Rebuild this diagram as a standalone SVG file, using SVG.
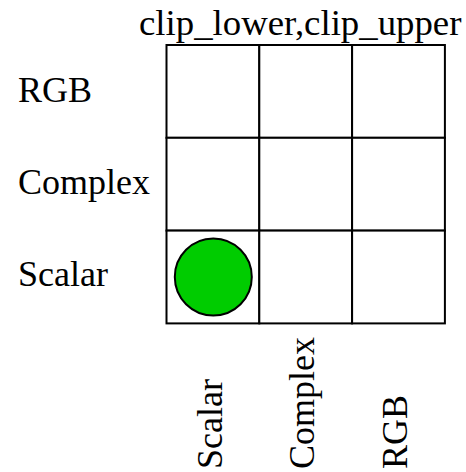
<svg xmlns="http://www.w3.org/2000/svg" width="466" height="472" viewBox="0 0 466 472">
<style>
text{font-family:"Liberation Serif","Times New Roman",serif;font-size:36px;fill:#000}
.cell{fill:#fff;stroke:#000;stroke-width:2}
</style>
<rect width="466" height="472" fill="#fff"/>
<text id="title" x="139" y="35" style="font-size:36.8px">clip_lower,clip_upper</text>
<g id="rowlabels">
<text x="18" y="101.5">RGB</text>
<text x="18" y="193.5">Complex</text>
<text x="18" y="286">Scalar</text>
</g>
<g id="grid">
<rect class="cell" x="166.5" y="45" width="92.8" height="92.8"/>
<rect class="cell" x="259.3" y="45" width="92.8" height="92.8"/>
<rect class="cell" x="352.1" y="45" width="92.8" height="92.8"/>
<rect class="cell" x="166.5" y="137.8" width="92.8" height="92.8"/>
<rect class="cell" x="259.3" y="137.8" width="92.8" height="92.8"/>
<rect class="cell" x="352.1" y="137.8" width="92.8" height="92.8"/>
<rect class="cell" x="166.5" y="230.6" width="92.8" height="92.8"/>
<rect class="cell" x="259.3" y="230.6" width="92.8" height="92.8"/>
<rect class="cell" x="352.1" y="230.6" width="92.8" height="92.8"/>
</g>
<g id="marker">
<circle cx="213.3" cy="277" r="38.5" fill="#00cc00" stroke="#000" stroke-width="2"/>
</g>
<g id="collabels">
<text transform="translate(221.7,469) rotate(-90)">Scalar</text>
<text transform="translate(313.5,469) rotate(-90)">Complex</text>
<text transform="translate(406.5,469) rotate(-90)">RGB</text>
</g>
</svg>
